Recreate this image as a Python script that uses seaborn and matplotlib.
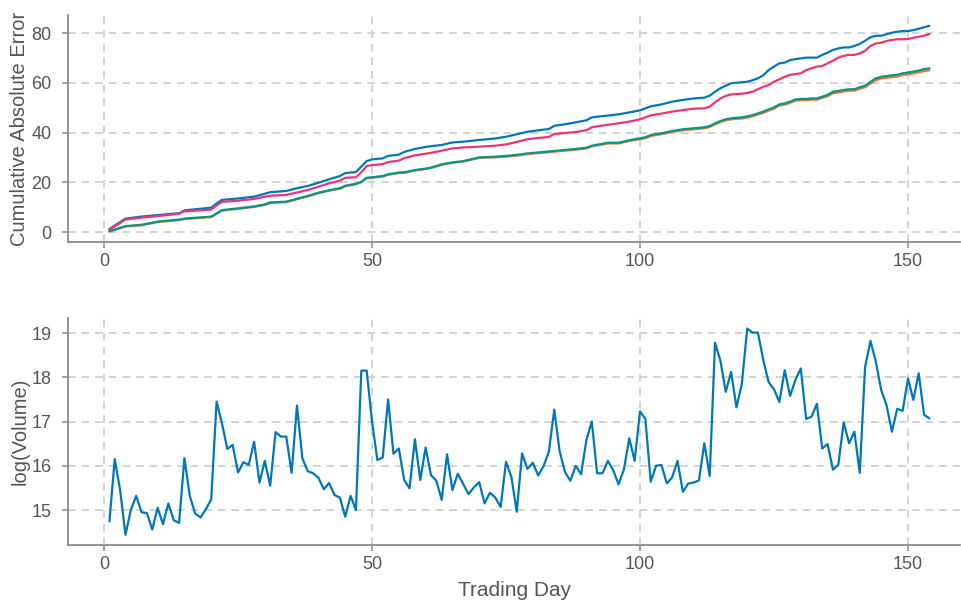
import numpy as np
import pandas as pd
import matplotlib
matplotlib.use("Agg")
import matplotlib.pyplot as plt
import seaborn as sns

# ---------------- data ----------------
sample_days = [1, 4, 7, 10, 13, 14, 15, 20, 21, 22, 25, 28, 30, 31, 34, 36, 38, 40, 42, 44,
               45, 47, 48, 49, 50, 52, 53, 55, 56, 58, 60, 61, 63, 65, 67, 70, 73, 75, 77, 79,
               81, 83, 84, 86, 88, 90, 91, 93, 94, 96, 98, 100, 101, 102, 104, 106, 108, 110,
               112, 113, 114, 115, 116, 117, 119, 120, 121, 122, 123, 124, 125, 126, 127, 128,
               129, 130, 131, 132, 133, 134, 135, 136, 137, 138, 139, 140, 141, 142, 143, 144,
               145, 146, 147, 148, 149, 150, 151, 152, 153, 154]

err_blue = [1.2, 5.4, 6.2, 6.8, 7.4, 7.5, 8.7, 9.8, 11.5, 12.9, 13.5, 14.2, 15.4, 16.0, 16.5, 17.6,
            18.5, 19.8, 21.2, 22.5, 23.7, 24.1, 26.3, 28.5, 29.2, 29.6, 30.6, 31.1, 32.2, 33.4,
            34.2, 34.5, 35.0, 36.0, 36.3, 37.0, 37.6, 38.3, 39.3, 40.3, 40.9, 41.4, 42.7, 43.3,
            44.1, 44.9, 46.1, 46.6, 46.8, 47.3, 48.1, 48.9, 49.7, 50.5, 51.3, 52.4, 53.1, 53.7,
            54.0, 54.8, 56.4, 57.8, 58.8, 59.8, 60.2, 60.4, 61.0, 61.8, 63.0, 65.1, 66.5, 67.8,
            68.1, 69.1, 69.5, 69.8, 70.1, 70.1, 70.1, 71.2, 72.1, 73.2, 73.8, 74.2, 74.2, 74.8,
            75.6, 76.9, 78.3, 78.9, 78.9, 79.5, 80.1, 80.5, 80.8, 80.8, 81.2, 81.7, 82.3, 82.9]

err_pink = [0.9, 5.0, 5.8, 6.4, 7.1, 7.4, 8.3, 9.0, 10.7, 12.1, 12.6, 13.3, 14.2, 14.6, 14.9, 15.9,
            16.9, 18.2, 19.6, 20.6, 21.8, 22.0, 24.0, 26.5, 26.9, 27.3, 28.1, 28.7, 29.7, 30.8,
            31.5, 31.8, 32.7, 33.6, 34.0, 34.3, 34.7, 35.2, 36.2, 37.3, 37.8, 38.2, 39.4, 39.8,
            40.2, 40.9, 42.1, 42.8, 43.1, 43.7, 44.4, 45.3, 46.1, 46.9, 47.6, 48.4, 49.0, 49.6,
            49.7, 50.4, 52.1, 53.7, 54.7, 55.3, 55.6, 55.9, 56.4, 57.4, 58.4, 59.1, 60.4, 61.4,
            62.4, 63.2, 63.5, 63.8, 65.1, 65.8, 66.5, 66.7, 67.8, 68.9, 70.1, 70.8, 71.2, 71.2,
            71.8, 72.8, 74.8, 75.8, 76.1, 76.8, 77.2, 77.5, 77.5, 77.6, 78.1, 78.5, 78.9, 79.6]

err_orange = [0.2, 2.2, 2.7, 4.0, 4.6, 4.8, 5.2, 6.0, 7.3, 8.6, 9.3, 10.1, 10.9, 11.7, 12.0, 13.2,
              14.3, 15.6, 16.6, 17.4, 18.4, 19.2, 20.0, 21.6, 21.8, 22.3, 23.0, 23.7, 23.8, 24.7,
              25.3, 25.7, 27.0, 27.8, 28.3, 29.8, 30.0, 30.3, 30.7, 31.3, 31.7, 32.1, 32.3, 32.7,
              33.1, 33.6, 34.4, 35.2, 35.6, 35.6, 36.6, 37.3, 37.7, 38.6, 39.3, 40.2, 40.9, 41.3,
              41.7, 42.2, 43.3, 44.2, 44.9, 45.3, 45.6, 46.0, 46.5, 47.2, 47.9, 48.8, 49.6, 50.8,
              51.2, 51.9, 52.8, 53.0, 53.0, 53.2, 53.2, 53.9, 54.6, 55.8, 56.1, 56.5, 56.8, 56.8,
              57.6, 58.2, 59.7, 61.1, 61.7, 62.0, 62.3, 62.5, 63.1, 63.4, 63.8, 64.2, 64.7, 65.0]

err_teal = [0.3, 2.4, 2.9, 4.2, 4.8, 5.0, 5.4, 6.2, 7.5, 8.8, 9.5, 10.3, 11.1, 11.9, 12.2, 13.4,
            14.5, 15.8, 16.8, 17.6, 18.6, 19.4, 20.2, 21.8, 22.0, 22.5, 23.2, 23.9, 24.0, 24.9,
            25.5, 25.9, 27.2, 28.0, 28.5, 30.0, 30.3, 30.6, 31.0, 31.6, 32.0, 32.4, 32.6, 33.0,
            33.4, 33.9, 34.7, 35.5, 35.9, 35.9, 36.9, 37.7, 38.1, 39.0, 39.7, 40.6, 41.3, 41.7,
            42.1, 42.6, 43.7, 44.6, 45.3, 45.7, 46.1, 46.5, 47.0, 47.7, 48.4, 49.3, 50.1, 51.3,
            51.7, 52.4, 53.3, 53.5, 53.5, 53.7, 53.7, 54.4, 55.1, 56.4, 56.7, 57.1, 57.4, 57.4,
            58.2, 58.8, 60.4, 61.8, 62.4, 62.7, 63.0, 63.2, 63.8, 64.1, 64.5, 64.9, 65.5, 65.8]

log_volume = [14.74, 16.15, 15.45, 14.44, 15.00, 15.32, 14.95, 14.93, 14.56, 15.05,
              14.68, 15.15, 14.77, 14.71, 16.17, 15.32, 14.92, 14.83, 15.02, 15.24,
              17.45, 16.96, 16.38, 16.47, 15.85, 16.08, 16.02, 16.54, 15.62, 16.11,
              15.55, 16.76, 16.66, 16.66, 15.84, 17.36, 16.17, 15.88, 15.83, 15.73,
              15.47, 15.61, 15.34, 15.28, 14.85, 15.32, 15.00, 18.15, 18.15, 17.00,
              16.13, 16.19, 17.50, 16.27, 16.39, 15.68, 15.49, 16.60, 15.68, 16.41,
              15.79, 15.66, 15.23, 16.26, 15.45, 15.82, 15.59, 15.36, 15.51, 15.63,
              15.15, 15.39, 15.28, 15.07, 16.09, 15.75, 14.96, 16.28, 15.93, 16.07,
              15.78, 15.99, 16.32, 17.27, 16.33, 15.86, 15.66, 16.00, 15.81, 16.58,
              17.00, 15.83, 15.83, 16.11, 15.90, 15.58, 15.92, 16.62, 16.11, 17.23,
              17.06, 15.64, 16.00, 16.02, 15.60, 15.74, 16.11, 15.41, 15.60, 15.62,
              15.67, 16.51, 15.77, 18.78, 18.37, 17.67, 18.12, 17.32, 17.85, 19.10,
              19.01, 19.01, 18.39, 17.89, 17.73, 17.44, 18.16, 17.58, 17.94, 18.20,
              17.06, 17.11, 17.40, 16.39, 16.49, 15.91, 16.02, 16.98, 16.51, 16.77,
              15.84, 18.24, 18.82, 18.35, 17.71, 17.37, 16.77, 17.29, 17.24, 17.97,
              17.49, 18.09, 17.15, 17.07]
trading_days = list(range(1, len(log_volume) + 1))

model_names = ["Model A", "Model B", "Model C", "Model D"]
model_colors = ["#0077BB", "#EE3377", "#EE7733", "#009988"]

# ---------------- frames ----------------
err_df = pd.concat([
    pd.DataFrame({"Trading Day": sample_days, "Cumulative Absolute Error": vals, "Model": name})
    for name, vals in zip(model_names, [err_blue, err_pink, err_orange, err_teal])
], ignore_index=True)
vol_df = pd.DataFrame({"Trading Day": trading_days, "log(Volume)": log_volume})

# ---------------- style ----------------
sns.set_theme(style="white")
plt.rcParams["font.family"] = ["Liberation Sans", "DejaVu Sans"]
plt.rcParams["lines.scale_dashes"] = False

fig = plt.figure(figsize=(9.62, 6.02), dpi=100)
left, width = 0.0711, 0.9268
ax1 = fig.add_axes([left, 0.5983, width, 0.3762])
ax2 = fig.add_axes([left, 0.0947, width, 0.3764])

sns.lineplot(data=err_df, x="Trading Day", y="Cumulative Absolute Error", hue="Model",
             palette=dict(zip(model_names, model_colors)), linewidth=1.6, legend=False, ax=ax1)
sns.lineplot(data=vol_df, x="Trading Day", y="log(Volume)", color="#0077BB",
             linewidth=1.6, ax=ax2)

spine_col = "#8c8c8c"
text_col = "#555555"
for ax in (ax1, ax2):
    ax.set_xlim(-6.65, 159.7)
    ax.set_xticks([0, 50, 100, 150])
    ax.grid(True, color="#d0d0d0", linestyle=(0, (5.5, 4.3)), linewidth=1.3)
    ax.set_axisbelow(True)
    for s in ("top", "right"):
        ax.spines[s].set_visible(False)
    for s in ("left", "bottom"):
        ax.spines[s].set_color(spine_col)
        ax.spines[s].set_linewidth(1.3)
    ax.tick_params(axis="both", which="major", length=4, width=1.1, color=spine_col,
                   labelsize=13, labelcolor=text_col, left=True, bottom=True)
    ax.tick_params(axis="y", pad=8)
    ax.tick_params(axis="x", pad=4)

ax1.set_ylim(-3.94, 87.1)
ax1.set_yticks([0, 20, 40, 60, 80])
ax1.set_xlabel("")
ax1.set_ylabel("Cumulative Absolute Error", fontsize=14.5, color=text_col, labelpad=1.5)

ax2.set_ylim(14.21, 19.33)
ax2.set_yticks([15, 16, 17, 18, 19])
ax2.set_xlabel("Trading Day", fontsize=15, color=text_col, labelpad=6)
ax2.set_ylabel("log(Volume)", fontsize=14.5, color=text_col, labelpad=1.5)

fig.savefig("out.png", dpi=100)
